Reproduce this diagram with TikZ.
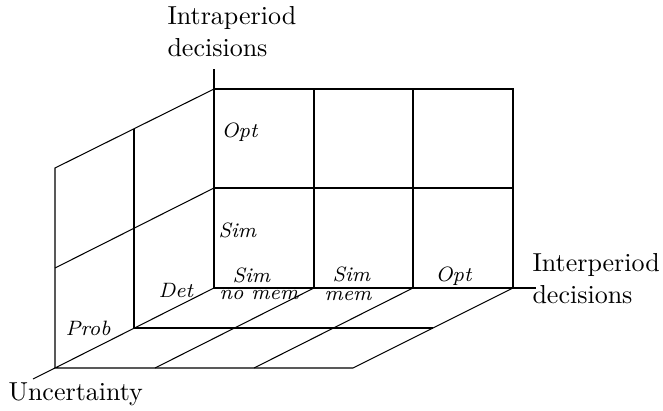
\documentclass[tikz,border=0pt]{standalone}
\begin{document}
\begin{tikzpicture}[x=0.3846pt,y=-0.3846pt,line width=0.4pt,
  lab/.style={inner sep=0pt,anchor=base west,font=\footnotesize\itshape},
  axlab/.style={inner sep=0pt,anchor=base west,align=left}]
\useasboundingbox (0,0) rectangle (663,410);
% back wall corners
\coordinate (b00) at (214,89);  \coordinate (b10) at (314,89);
\coordinate (b20) at (413,89);  \coordinate (b30) at (513,89);
\coordinate (b01) at (214,188); \coordinate (b31) at (513,188);
\coordinate (b02) at (214,288); \coordinate (b12) at (314,288);
\coordinate (b22) at (413,288); \coordinate (b32) at (513,288);
% left wall
\coordinate (l10) at (134,129); \coordinate (l20) at (55,168);
\coordinate (l21) at (55,268);
\coordinate (l12) at (134,328); \coordinate (l22) at (55,368);
% floor
\coordinate (f12) at (155,368); \coordinate (f22) at (254,368);
\coordinate (f32) at (353,368); \coordinate (m32) at (433,328);
% axis ends
\coordinate (az) at (214,69); \coordinate (ax) at (536,288);
\coordinate (ay) at (33,379);
% back wall
\draw (b00) rectangle (b32);
\draw (b10) -- (b12);
\draw (b20) -- (b22);
\draw (b01) -- (b31);
% left wall
\draw (b00) -- (l20) -- (l22);
\draw (b01) -- (l21);
\draw (l10) -- (l12);
% floor
\draw (b02) -- (l22) -- (f32) -- (b32);
\draw (b12) -- (f12);
\draw (b22) -- (f22);
\draw (l12) -- (m32);
% axes
\draw (b00) -- (az);
\draw (b32) -- (ax);
\draw (l22) -- (ay);
% labels
\node[axlab] (intra) at (167,56) {Intraperiod\\decisions};
\node[axlab] (inter) at (532,303) {Interperiod\\decisions};
\node[axlab] (unc) at (8,400) {Uncertainty};
\node[lab] (opt1) at (221,137) {Opt};
\node[lab] (sim1) at (218,237) {Sim};
\node[lab] (sim2) at (232,282) {Sim};
\node[lab] (nomem) at (219,299) {no mem};
\node[lab] (sim3) at (332,281) {Sim};
\node[lab] (mem) at (324,300) {mem};
\node[lab] (opt2) at (435,281) {Opt};
\node[lab] (det) at (158,297) {Det};
\node[lab] (prob) at (65,335) {Prob};
\end{tikzpicture}
\end{document}
